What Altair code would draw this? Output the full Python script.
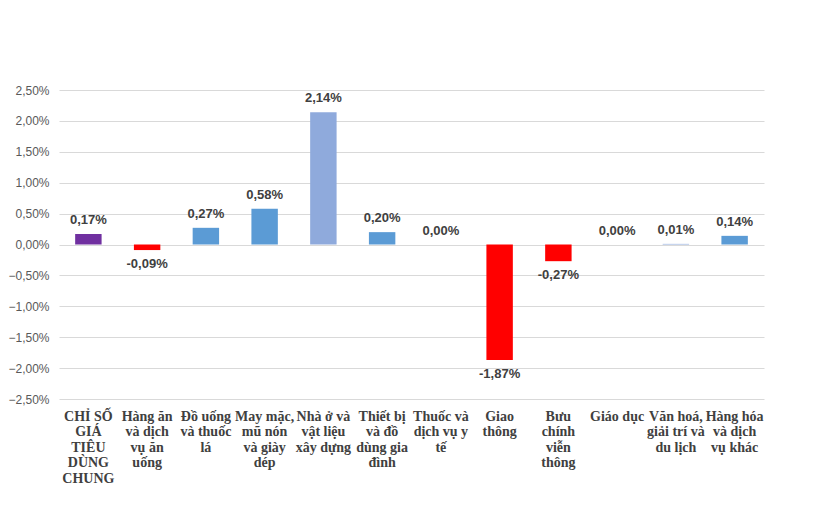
import altair as alt
import pandas as pd

categories = [
    "CHỈ SỐ|GIÁ|TIÊU|DÙNG|CHUNG",
    "Hàng ăn|và dịch|vụ ăn|uống",
    "Đồ uống|và thuốc|lá",
    "May mặc,|mũ nón|và giày|dép",
    "Nhà ở và|vật liệu|xây dựng",
    "Thiết bị|và đồ|dùng gia|đình",
    "Thuốc và|dịch vụ y|tế",
    "Giao|thông",
    "Bưu|chính|viễn|thông",
    "Giáo dục",
    "Văn hoá,|giải trí và|du lịch",
    "Hàng hóa|và dịch|vụ khác",
]
values = [0.17, -0.09, 0.27, 0.58, 2.14, 0.20, 0.00, -1.87, -0.27, 0.00, 0.01, 0.14]
bar_colors = ["#7030A0", "#FF0000", "#5B9BD5", "#5B9BD5", "#8FAADC", "#5B9BD5",
              "#5B9BD5", "#FF0000", "#FF0000", "#5B9BD5", "#8FAADC", "#5B9BD5"]
y_ticks = [-2.5, -2.0, -1.5, -1.0, -0.5, 0.0, 0.5, 1.0, 1.5, 2.0, 2.5]

df = pd.DataFrame({"cat": categories, "v": values})
df["lbl"] = [f"{x:.2f}%".replace(".", ",") for x in values]

x_enc = alt.X(
    "cat:N",
    sort=categories,
    scale=alt.Scale(paddingInner=0.55, paddingOuter=0.275),
    axis=alt.Axis(
        title=None, labelAngle=0, domain=False, ticks=False,
        labelExpr="split(datum.label, '|')",
        labelFont="Liberation Serif", labelFontWeight="bold", labelFontSize=14,
        labelColor="#404040", labelLineHeight=15.5, labelPadding=10,
        labelBaseline="top", labelLimit=0, labelOverlap=False,
    ),
)
y_enc = alt.Y(
    "v:Q",
    scale=alt.Scale(domain=[-2.5, 2.5], nice=False, zero=False),
    axis=alt.Axis(
        title=None, values=y_ticks, domain=False, ticks=False,
        labelExpr="replace(format(datum.value, '.2f'), '.', ',') + '%'",
        labelFont="Liberation Sans", labelFontSize=12, labelColor="#595959",
        labelPadding=10, gridColor="#D9D9D9", gridWidth=1,
        labelOverlap=False, labelBound=False, labelFlush=False,
    ),
)

bars = alt.Chart(df).mark_bar().encode(
    x=x_enc,
    y=y_enc,
    color=alt.Color("cat:N", scale=alt.Scale(domain=categories, range=bar_colors), legend=None),
)

txt_kw = dict(font="Liberation Sans", fontWeight="bold", fontSize=13, color="#404040")
pos = alt.Chart(df).transform_filter("datum.v >= 0").mark_text(
    baseline="bottom", dy=-7, **txt_kw
).encode(x=x_enc, y=y_enc, text="lbl:N")
neg = alt.Chart(df).transform_filter("datum.v < 0").mark_text(
    baseline="top", dy=8, **txt_kw
).encode(x=x_enc, y=y_enc, text="lbl:N")

chart = alt.layer(bars, pos, neg).properties(
    width=705, height=309,
    background="white",
    autosize=alt.AutoSizeParams(type="none"),
    padding={"left": 51, "top": 82, "right": 48, "bottom": 101},
).configure_view(stroke=None)

chart.save("out.html", embed_options={"renderer": "svg", "actions": False})
